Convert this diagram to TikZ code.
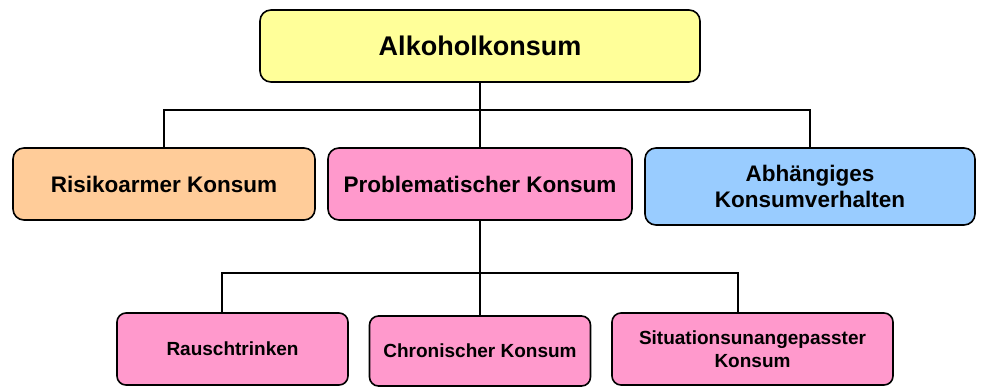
\documentclass[tikz,border=0pt]{standalone}
\usepackage{fontspec}
\setmainfont{Liberation Sans}
\definecolor{cyellow}{HTML}{FFFF99}
\definecolor{corange}{HTML}{FFCC99}
\definecolor{cpink}{HTML}{FF99CC}
\definecolor{cblue}{HTML}{99CCFF}
\tikzset{
  box/.style={draw=black, line width=1.6pt, rounded corners=11pt, align=center, inner sep=2pt, font=\bfseries},
  lvlone/.style={box, font=\bfseries\fontsize{27}{32}\selectfont},
  lvltwo/.style={box, font=\bfseries\fontsize{22.5}{25.5}\selectfont},
  lvlthree/.style={box, rounded corners=9pt, font=\bfseries\fontsize{19}{23}\selectfont},
  conn/.style={draw=black, line width=1.4pt}
}
\begin{document}
\begin{tikzpicture}[x=1pt,y=-1pt]
\useasboundingbox (0,0) rectangle (981,386);
\node[lvlone, fill=cyellow, minimum width=440pt, minimum height=72pt] (top) at (480,46) {Alkoholkonsum};
\node[lvltwo, fill=corange, minimum width=302pt, minimum height=72pt] (risk) at (164,184) {Risikoarmer Konsum};
\node[lvltwo, fill=cpink, minimum width=304pt, minimum height=72pt] (prob) at (480,184) {Problematischer Konsum};
\node[lvltwo, fill=cblue, minimum width=330pt, minimum height=77pt] (abh) at (810,186.5) {Abhängiges\\Konsumverhalten};
\node[lvlthree, fill=cpink, minimum width=231pt, minimum height=72pt] (rausch) at (232.5,349) {Rauschtrinken};
\node[lvlthree, fill=cpink, minimum width=221pt, minimum height=70pt] (chron) at (480,351) {Chronischer Konsum};
\node[lvlthree, fill=cpink, minimum width=281pt, minimum height=72pt] (sit) at (752.5,349) {Situationsunangepasster\\Konsum};
\coordinate (j1) at (480,110);
\coordinate (r3) at (222,273);
\coordinate (s3) at (738,273);
\draw[conn] (top.south) -- (prob.north);
\draw[conn] (risk.north) |- (j1) -| (abh.north);
\draw[conn] (prob.south) -- (chron.north);
\draw[conn] (rausch.north -| r3) -- (r3) -- (s3) -- (sit.north -| s3);
\end{tikzpicture}
\end{document}
